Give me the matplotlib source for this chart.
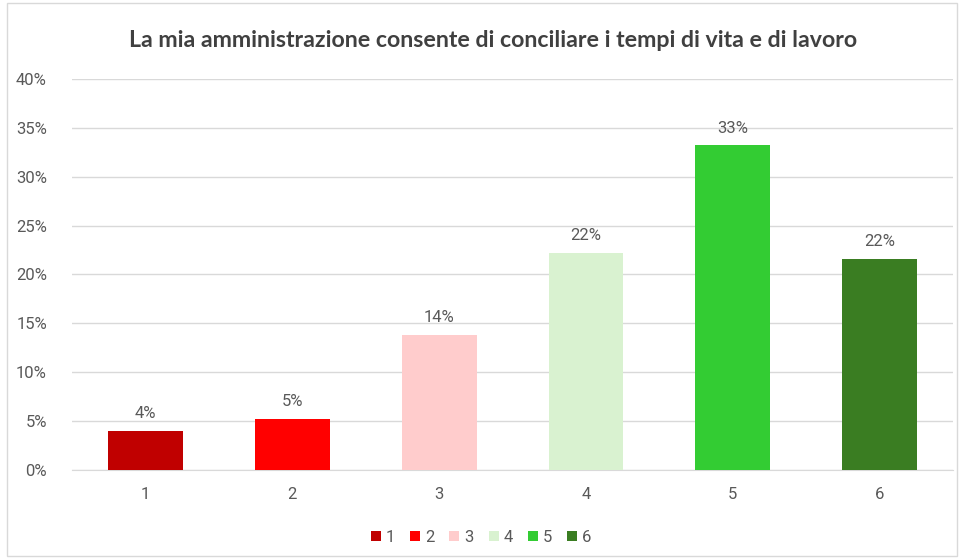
import matplotlib
matplotlib.use("Agg")
import matplotlib.pyplot as plt
from matplotlib.patches import Patch, Rectangle
from matplotlib.ticker import PercentFormatter

# dati
categorie = ["1", "2", "3", "4", "5", "6"]
valori = [4.0, 5.2, 13.8, 22.2, 33.2, 21.6]
etichette = ["4%", "5%", "14%", "22%", "33%", "22%"]
colori = ["#C00000", "#FF0000", "#FFCCCC", "#D9F2D0", "#33CC33", "#3A7D22"]
titolo = "La mia amministrazione consente di conciliare i tempi di vita e di lavoro"

plt.rcParams['font.family'] = ['Roboto', 'DejaVu Sans']

fig = plt.figure(figsize=(9.62, 5.59), dpi=100)
ax = fig.add_axes([0.0748, 0.159, 0.916, 0.70])

x = list(range(len(categorie)))
barre = ax.bar(x, valori, width=0.51, color=colori, zorder=3)
for b, t in zip(barre, etichette):
    ax.text(b.get_x() + b.get_width() / 2, b.get_height() + 1.0, t,
            ha="center", va="bottom", fontsize=12, color="#595959")

ax.set_xlim(-0.5, len(categorie) - 0.5)
ax.set_ylim(0, 40)
ax.set_yticks(range(0, 41, 5))
ax.yaxis.set_major_formatter(PercentFormatter(decimals=0))
ax.set_xticks(x)
ax.set_xticklabels(categorie)
ax.grid(axis="y", color="#D9D9D9", linewidth=1, zorder=0)
for s in ["top", "right", "left"]:
    ax.spines[s].set_visible(False)
ax.spines["bottom"].set_color("#D9D9D9")
ax.tick_params(axis="both", length=0, labelsize=12, labelcolor="#595959")
ax.tick_params(axis="y", pad=18)
ax.tick_params(axis="x", pad=12)

fig.text(0.513, 0.928, titolo, ha="center", va="center", fontsize=16.7,
         fontweight="bold", color="#404040", family=["Lato", "DejaVu Sans"])

maniglie = [Patch(facecolor=c, label=l) for c, l in zip(colori, categorie)]
fig.legend(handles=maniglie, loc="center", bbox_to_anchor=(0.5, 0.039), ncol=6,
           frameon=False, fontsize=12, labelcolor="#595959",
           handlelength=0.6, handleheight=0.6, handletextpad=0.3, columnspacing=0.9)

fig.patches.append(Rectangle((0.007, 0.006), 0.988, 0.988, transform=fig.transFigure,
                             fill=False, edgecolor="#D9D9D9", linewidth=1))

fig.savefig("out.png", dpi=100)
